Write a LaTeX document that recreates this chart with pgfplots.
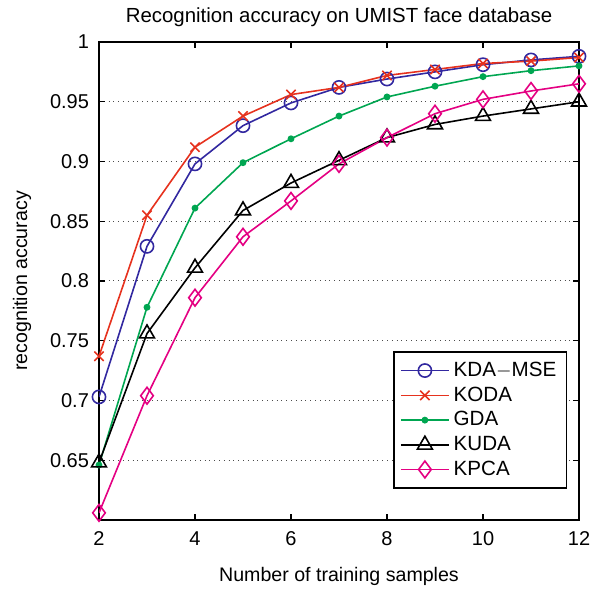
\documentclass[border=0pt]{standalone}
\usepackage{fontspec}
\setmainfont{Liberation Sans}
\usepackage{pgfplots}
\pgfplotsset{compat=1.18}
\definecolor{cKDA}{RGB}{50,40,160}
\definecolor{cKODA}{RGB}{230,50,30}
\definecolor{cGDA}{RGB}{0,166,81}
\definecolor{cKUDA}{RGB}{0,0,0}
\definecolor{cKPCA}{RGB}{228,0,130}
\begin{document}
\begin{tikzpicture}
\begin{axis}[
  scale only axis,
  width=240pt, height=239pt,
  xmin=2, xmax=12, ymin=0.6, ymax=1,
  xtick={2,4,6,8,10,12},
  ytick={0.65,0.7,0.75,0.8,0.85,0.9,0.95,1},
  yticklabels={0.65,0.7,0.75,0.8,0.85,0.9,0.95,1},
  tick align=inside,
  major tick length=3pt,
  ymajorgrids,
  grid style={dotted, black!70, line width=0.5pt},
  axis line style={line width=0.75pt},
  every tick/.style={black, line width=0.6pt},
  tick label style={font=\fontsize{10}{12}\selectfont},
  /pgf/number format/assume math mode=true,
  xticklabel style={yshift=-2.3pt},
  yticklabel style={xshift=-1.5pt},
  title={Recognition accuracy on UMIST face database},
  every axis title/.style={at={(axis description cs:0.5,1.0418)}, anchor=base, font=\fontsize{10.2}{12}\selectfont},
  xlabel={Number of training samples},
  every axis x label/.style={at={(axis description cs:0.5,-0.1297)}, anchor=base, font=\fontsize{9.8}{12}\selectfont},
  ylabel={recognition accuracy},
  every axis y label/.style={at={(axis description cs:-0.1604,0.5)}, rotate=90, anchor=center, font=\fontsize{9.8}{12}\selectfont},
  legend style={at={(axis description cs:0.975,0.065)}, anchor=south east, draw=black, line width=0.75pt,
    font=\fontsize{10.3}{12}\selectfont, row sep=-0.3pt, inner xsep=3pt, inner ysep=3pt},
  legend cell align=left,
  legend image code/.code={\draw[line width=0.8pt, mark repeat=2,mark phase=2] plot coordinates {(0pt,0pt) (12pt,0pt) (24pt,0pt)};},
  every axis plot/.append style={line width=0.8pt},
]
\addplot[color=cKDA, mark=o, mark size=3.3pt] coordinates {
(2,0.703) (3,0.829) (4,0.898) (5,0.930) (6,0.949) (7,0.962) (8,0.969) (9,0.975) (10,0.981) (11,0.985) (12,0.988)};
\addlegendentry{KDA$-$MSE}
\addplot[color=cKODA, mark=x, mark size=3.3pt] coordinates {
(2,0.737) (3,0.855) (4,0.912) (5,0.938) (6,0.956) (7,0.962) (8,0.972) (9,0.977) (10,0.982) (11,0.984) (12,0.987)};
\addlegendentry{KODA}
\addplot[color=cGDA, mark=*, mark size=1.3pt] coordinates {
(2,0.646) (3,0.778) (4,0.861) (5,0.899) (6,0.919) (7,0.938) (8,0.954) (9,0.963) (10,0.971) (11,0.976) (12,0.980)};
\addlegendentry{GDA}
\addplot[color=cKUDA, mark=triangle, mark size=4.3pt] coordinates {
(2,0.648) (3,0.756) (4,0.811) (5,0.859) (6,0.882) (7,0.901) (8,0.920) (9,0.931) (10,0.938) (11,0.944) (12,0.950)};
\addlegendentry{KUDA}
\addplot[color=cKPCA, mark=diamond, mark size=4.2pt] coordinates {
(2,0.606) (3,0.704) (4,0.786) (5,0.837) (6,0.867) (7,0.898) (8,0.920) (9,0.940) (10,0.952) (11,0.959) (12,0.965)};
\addlegendentry{KPCA}
\end{axis}
\path ([xshift=-49.5pt,yshift=-35.5pt]current axis.south west) rectangle ([xshift=15pt,yshift=21pt]current axis.north east);
\end{tikzpicture}
\end{document}
